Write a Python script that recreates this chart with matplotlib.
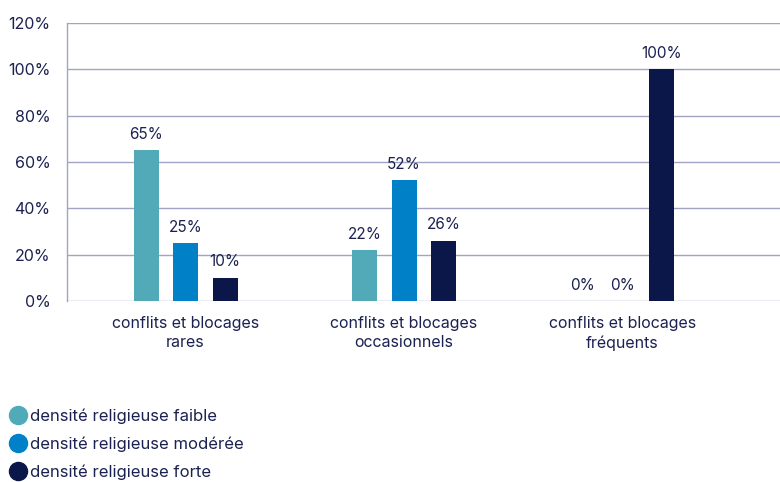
import numpy as np
import matplotlib.pyplot as plt
from matplotlib.lines import Line2D

categories = ["conflits et blocages\nrares",
              "conflits et blocages\noccasionnels",
              "conflits et blocages\nfréquents"]
series = ["densité religieuse faible",
          "densité religieuse modérée",
          "densité religieuse forte"]
faible = [65, 22, 0]
moderee = [25, 52, 0]
forte = [10, 26, 100]
yticks = [0, 20, 40, 60, 80, 100, 120]

colors = ["#52aab9", "#0080c6", "#0b1649"]
text_color = "#1b2150"
grid_color = "#a3a3c2"

plt.rcParams['font.family'] = ['Inter', 'DejaVu Sans']

fig = plt.figure(figsize=(7.8, 4.82), dpi=100)
ax = fig.add_axes([0.086, 0.3755, 0.914, 0.577])

x = np.arange(len(categories))
width = 0.1144
step = 0.1808
for i, (vals, col) in enumerate(zip([faible, moderee, forte], colors)):
    bars = ax.bar(x + (i - 1) * step, vals, width, color=col, zorder=3)
    for b, v in zip(bars, vals):
        ax.annotate(f"{v}%", (b.get_x() + b.get_width() / 2, v),
                    xytext=(0, 6), textcoords="offset points",
                    ha="center", va="bottom", fontsize=11, color=text_color)

ax.set_xlim(-0.5423, 2.721)
ax.set_ylim(0, 120)
ax.set_yticks(yticks)
ax.set_yticklabels([f"{t}%" for t in yticks])
ax.set_xticks(x)
ax.set_xticklabels(categories, linespacing=1.35)
ax.tick_params(axis="both", length=0, labelsize=11.5, labelcolor=text_color)
ax.tick_params(axis="y", pad=12)
ax.tick_params(axis="x", pad=11)
ax.grid(axis="y", color=grid_color, linewidth=1, zorder=0)
for s in ["top", "right", "bottom"]:
    ax.spines[s].set_visible(False)
ax.spines["left"].set_color(grid_color)
ax.spines["left"].set_linewidth(1)

handles = [Line2D([], [], marker="o", linestyle="", markersize=13,
                  markerfacecolor=c, markeredgecolor=c) for c in colors]
leg = fig.legend(handles, series, loc="upper left", bbox_to_anchor=(0.0, 0.167),
                 frameon=False, fontsize=12, handletextpad=0.0,
                 labelspacing=0.75, handlelength=1.4, borderaxespad=0)
for t in leg.get_texts():
    t.set_color(text_color)

fig.savefig("out.png", dpi=100)
